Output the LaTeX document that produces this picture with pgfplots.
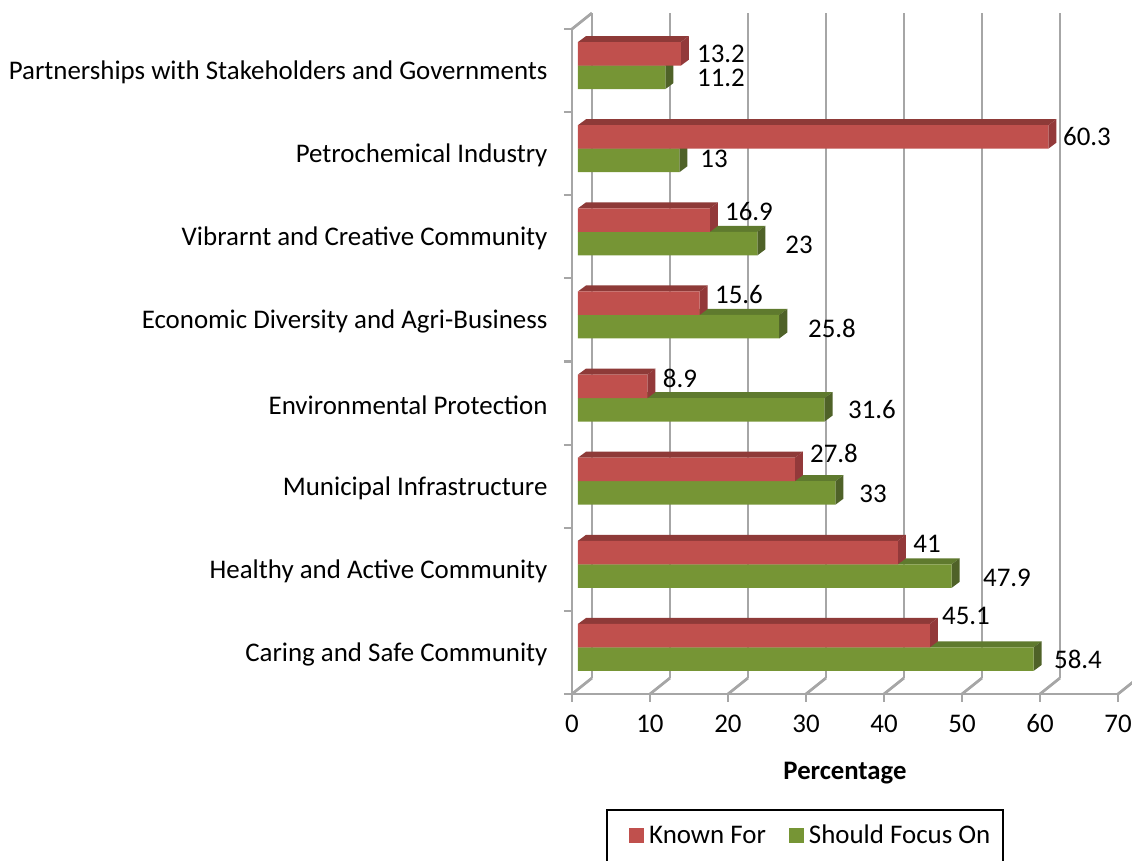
\documentclass[border=0pt]{standalone}
\usepackage{fontspec}
\setmainfont{Carlito}
\usepackage{pgfplots}
\usepackage{pgfplotstable}
\pgfplotsset{compat=1.18}

\definecolor{wallgray}{HTML}{A6A6A6}
\definecolor{redfront}{HTML}{C0504D}
\definecolor{redtop}{HTML}{8E3A38}
\definecolor{redside}{HTML}{93393A}
\definecolor{greenfront}{HTML}{769535}
\definecolor{greentop}{HTML}{5F7A2E}
\definecolor{greenside}{HTML}{4F6228}

% y = bar junction, bottom category first
\pgfplotstableread{
y     known  focus
0.56  45.1   58.4
1.56  41.0   47.9
2.56  27.8   33.0
3.56  8.9    31.6
4.56  15.6   25.8
5.56  16.9   23.0
6.56  60.3   13.0
7.56  13.2   11.2
}\chartdata

% depth faces of a bar: value, bottom y, top colour, side colour
\newcommand{\barfaces}[4]{%
  \pgfmathsetmacro\xe{#1+1.03}%
  \pgfmathsetmacro\yb{#2}%
  \pgfmathsetmacro\yt{#2+0.283}%
  \pgfmathsetmacro\ybb{\yb+0.072}%
  \pgfmathsetmacro\ytt{\yt+0.072}%
  \addplot[fill=#3, draw=none, forget plot, xshift=6pt] coordinates {(0,\yt) (1.03,\ytt) (\xe,\ytt) (#1,\yt) (0,\yt)};
  \addplot[fill=#4, draw=none, forget plot, xshift=6pt] coordinates {(#1,\yb) (\xe,\ybb) (\xe,\ytt) (#1,\yt) (#1,\yb)};
}

\newcommand{\vlab}[3]{\node[font=\fontsize{26.9}{31}\selectfont, inner sep=0pt] at ({#1-572},{694-#2}) {#3};}

\begin{document}
\begin{tikzpicture}[x=1pt,y=1pt]
\useasboundingbox (-572,-167) rectangle (560,694);
\begin{axis}[
    scale only axis,
    width=546pt, height=665pt,
    xmin=0, xmax=70, ymin=0, ymax=8,
    clip=false,
    axis x line=bottom, axis y line=left,
    axis line style={draw=wallgray, line width=2.8pt, -},
    xtick={0,10,...,70},
    ytick={0,1,...,8},
    yticklabels={},
    extra y ticks={0.5,1.5,2.5,3.5,4.5,5.5,6.5,7.5},
    extra y tick labels={Caring and Safe Community, Healthy and Active Community, Municipal Infrastructure, Environmental Protection, Economic Diversity and Agri-Business, Vibrarnt and Creative Community, Petrochemical Industry, Partnerships with Stakeholders and Governments},
    every extra y tick/.style={major tick length=0pt, yticklabel style={anchor=east, xshift=-21pt, yshift=-2pt}},
    tick align=outside,
    major tick length=8pt,
    tick style={draw=wallgray, line width=2.2pt},
    xmajorgrids,
    grid style={draw=wallgray, line width=2.8pt, xshift=20pt, yshift=16pt},
    tick label style={font=\fontsize{26.9}{31}\selectfont},
    /pgf/number format/assume math mode=true,
    xticklabel style={yshift=-10pt, text height=17pt, text depth=0pt},
    xlabel={Percentage},
    x label style={at={(axis description cs:0.5,-0.1185)}, anchor=center, font=\fontsize{26.7}{31}\selectfont\bfseries},
    legend style={
      at={(axis description cs:0.0623,-0.1729)}, anchor=north west,
      draw=none, fill=none, inner xsep=23pt, inner ysep=14pt,
      font=\fontsize{26.9}{31}\selectfont,
      /tikz/every even column/.append style={column sep=21pt},
      /tikz/every odd column/.append style={column sep=3pt},
    },
    legend columns=2,
    legend cell align=left,
    legend image code/.code={\fill[#1, draw=none] (0pt,-7.5pt) rectangle (15pt,7.5pt);},
]
% floor edges running back to the wall
\pgfplotsinvokeforeach{0,10,...,70}{
  \draw[wallgray, line width=2.8pt] (axis cs:#1,0) -- ++(20pt,16pt);
}
\draw[wallgray, line width=2.8pt] (axis cs:0,8) -- ++(20pt,16pt);

% green bars first, red lies over their top faces
\pgfplotsforeachungrouped \i in {0,...,7}{
  \pgfplotstablegetelem{\i}{focus}\of\chartdata \let\val\pgfplotsretval
  \pgfmathsetmacro\yy{\i+0.277}
  \barfaces{\val}{\yy}{greentop}{greenside}
}
\addplot[xbar, bar width=23.5pt, bar shift=-11.75pt, fill=greenfront, draw=none, forget plot, xshift=6pt] table[x=focus, y=y] {\chartdata};

\pgfplotsforeachungrouped \i in {0,...,7}{
  \pgfplotstablegetelem{\i}{known}\of\chartdata \let\val\pgfplotsretval
  \pgfmathsetmacro\yy{\i+0.56}
  \barfaces{\val}{\yy}{redtop}{redside}
}
\addplot[xbar, bar width=23.5pt, bar shift=11.75pt, fill=redfront, draw=none, forget plot, xshift=6pt] table[x=known, y=y] {\chartdata};

\addlegendimage{fill=redfront}
\addlegendentry{Known For}
\addlegendimage{fill=greenfront}
\addlegendentry{Should Focus On}
\end{axis}

% legend frame, its lower edge runs off the page
\draw[black, line width=2pt] (35,-175) rectangle (431,-116);

\vlab{721}{54}{13.2}
\vlab{721}{78}{11.2}
\vlab{1087}{137}{60.3}
\vlab{714}{159}{13}
\vlab{749}{212}{16.9}
\vlab{799}{245}{23}
\vlab{739}{295}{15.6}
\vlab{832}{328}{25.8}
\vlab{680}{378}{8.9}
\vlab{872}{410}{31.6}
\vlab{834}{453}{27.8}
\vlab{873}{494}{33}
\vlab{927}{544}{41}
\vlab{1007}{578}{47.9}
\vlab{966}{616}{45.1}
\vlab{1078}{659}{58.4}
\end{tikzpicture}
\end{document}
